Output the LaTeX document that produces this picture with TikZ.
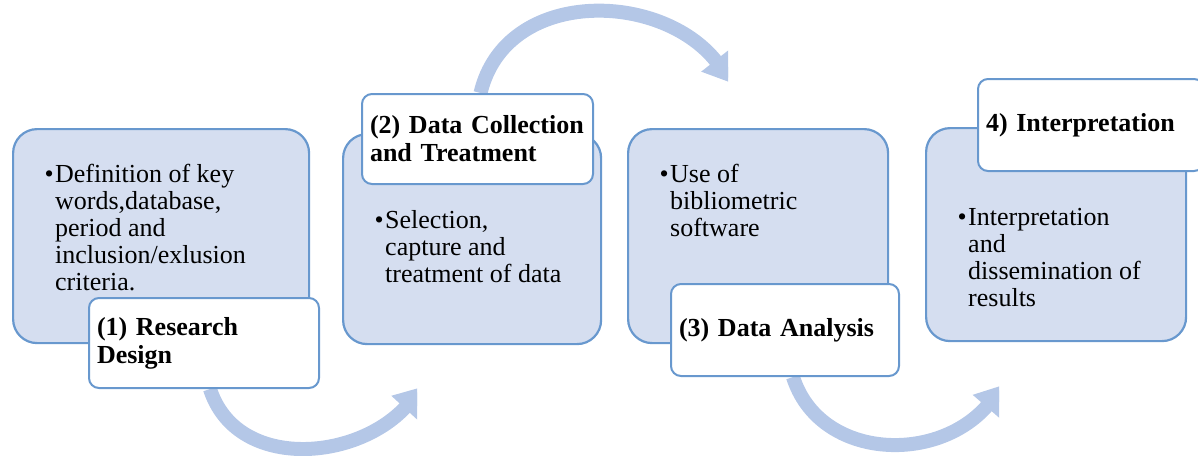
\documentclass[tikz,border=0pt]{standalone}
\usepackage{fontspec}
\setmainfont{Liberation Serif}
\usetikzlibrary{arrows.meta,backgrounds}
\definecolor{boxfill}{RGB}{213,222,240}
\definecolor{boxline}{RGB}{104,152,206}
\definecolor{arrowblue}{RGB}{180,199,231}
\newcommand{\itembul}{\makebox[0pt][r]{\textbullet\hspace{1.5pt}}}

\begin{document}
\begin{tikzpicture}[x=1pt, y=-1pt,
  every node/.style={font=\fontsize{26}{27}\selectfont, inner sep=0pt},
  bluebox/.style={draw=boxline, line width=2.2pt, fill=boxfill, rounded corners=24pt, anchor=north west},
  whitebox/.style={draw=boxline, line width=2pt, fill=white, rounded corners=10pt, anchor=north west,
    inner xsep=8pt, align=left, font=\fontsize{26}{28}\selectfont\bfseries},
  bullets/.style={anchor=base west, align=left},
  bigarrow/.style={arrowblue, line width=14pt, -{Triangle[length=30pt,width=34pt]}}]
\useasboundingbox (0,0) rectangle (1198,455);
% steps (bullet nodes sit on the baseline of their last line)
\node[bluebox, minimum width=296pt, minimum height=214pt] (b1) at (12,128) {};
\node[bluebox, minimum width=258pt, minimum height=210pt] (b2) at (342,133) {};
\node[bluebox, minimum width=260pt, minimum height=214pt] (b3) at (627,128) {};
\node[bluebox, minimum width=260pt, minimum height=213pt] (b4) at (925,127) {};
\node[bullets] (t1) at (55,290) {\itembul Definition of key\\words,database,\\period and\\inclusion/exlusion\\criteria.};
\node[bullets] (t2) at (385,282) {\itembul Selection,\\capture and\\treatment of data};
\node[bullets] (t3) at (670,236) {\itembul Use of\\bibliometric\\software};
\node[bullets] (t4) at (968,306) {\itembul Interpretation\\and\\dissemination of\\results};
\node[whitebox, text width=214pt, minimum height=90pt] (w1) at (88,297) {(1) Research\\Design};
\node[whitebox, text width=215pt, minimum height=90pt] (w2) at (361,93) {(2) Data Collection\\and Treatment};
\node[whitebox, text width=212pt, minimum height=92pt] (w3) at (670,283) {(3) Data Analysis};
\node[whitebox, text width=210pt, minimum height=92pt] (w4) at (977,78) {4) Interpretation};
% curved arrows
\coordinate (e1) at (425,386);
\coordinate (e2) at (734,84);
\coordinate (e3) at (1006,384);
\begin{scope}[on background layer]
  \begin{scope}
    \clip (0,0) rectangle (417,455);
    \draw[bigarrow] ([xshift=6pt]w1.south) .. controls +(26,81) and +(-70,76) .. (e1);
  \end{scope}
  \begin{scope}
    \clip (0,0) rectangle (728,455);
    \draw[bigarrow] ([xshift=3pt]w2.north) .. controls +(25,-105) and +(-74,-94) .. (e2);
  \end{scope}
  \begin{scope}
    \clip (0,0) rectangle (999,455);
    \draw[bigarrow] ([xshift=8pt]w3.south) .. controls +(26,82) and +(-70,81) .. (e3);
  \end{scope}
\end{scope}
\end{tikzpicture}
\end{document}
